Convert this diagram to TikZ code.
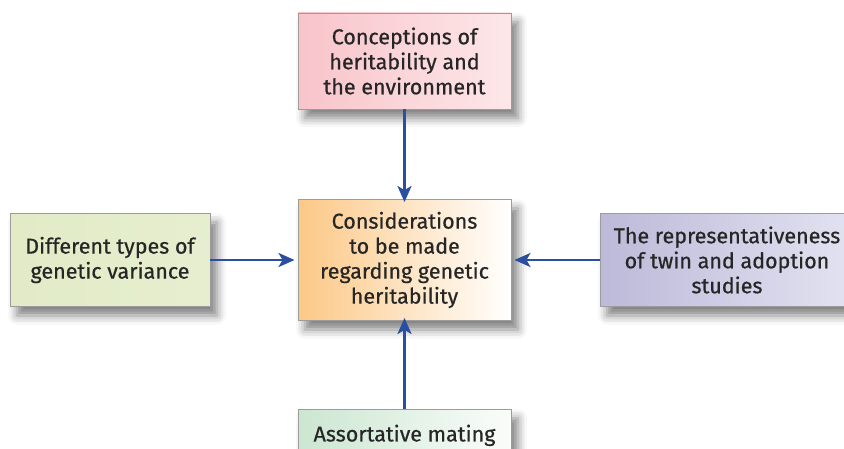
\documentclass[tikz,border=0pt]{standalone}
\usepackage{fontspec}
\setmainfont{Fira Sans}[FakeBold=0.6]
\usetikzlibrary{arrows.meta,shadows.blur}

\definecolor{arrowblue}{HTML}{2B4FA0}
\definecolor{boxedge}{HTML}{9C9C9C}
\definecolor{pinkL}{HTML}{F8C4CA}
\definecolor{pinkR}{HTML}{FDE7E9}
\definecolor{greenL}{HTML}{E2EBC6}
\definecolor{greenR}{HTML}{E6EED0}
\definecolor{orangeL}{HTML}{FCC886}
\definecolor{orangeR}{HTML}{FFFFFF}
\definecolor{violetL}{HTML}{BDB9D9}
\definecolor{violetR}{HTML}{E2E3F1}
\definecolor{mintL}{HTML}{CBE6D1}
\definecolor{mintR}{HTML}{FAFDFA}

\tikzset{
  topic/.style={draw=boxedge, line width=0.9pt, align=center, inner sep=0pt,
    font=\fontsize{21.5}{25}\selectfont, text=black!85,
    blur shadow={shadow xshift=7pt, shadow yshift=-9pt, shadow blur radius=9pt, shadow opacity=50}},
  link/.style={draw=arrowblue, line width=2.8pt,
    -{Stealth[length=16pt,width=14pt,inset=4pt]}}
}

\begin{document}
\begin{tikzpicture}[x=1pt,y=-1pt]
  \useasboundingbox (0,0) rectangle (844,449);
  \clip (0,0) rectangle (844,449);

  % centre box
  \node[topic, minimum width=213pt, minimum height=121pt,
        left color=orangeL, right color=orangeR] (ctr) at (404.5,260)
    {Considerations\\to be made\\regarding genetic\\heritability};

  % surrounding boxes
  \node[topic, minimum width=213pt, minimum height=96pt,
        left color=pinkL, right color=pinkR] (top) at (404.5,61)
    {Conceptions of\\heritability and\\the environment};
  \node[topic, minimum width=200pt, minimum height=93pt,
        left color=greenL, right color=greenR] (lft) at (110,260)
    {Different types of\\genetic variance};
  \node[topic, minimum width=254pt, minimum height=93pt,
        left color=violetL, right color=violetR] (rgt) at (727,260)
    {The representativeness\\of twin and adoption\\studies};
  \node[topic, minimum width=213pt, minimum height=0pt,
        text height=32pt, text depth=48pt,
        left color=mintL, right color=mintR, anchor=north] (bot) at (404.5,409)
    {Assortative mating};

  % connectors
  \draw[link] (top.south) -- ([yshift=-3pt]ctr.north);
  \draw[link] (lft.east) -- ([xshift=-3pt]ctr.west |- lft.east);
  \draw[link] (rgt.west) -- ([xshift=3pt]ctr.east |- rgt.west);
  \draw[link] (bot.north) -- ([yshift=3pt]ctr.south);
\end{tikzpicture}
\end{document}
